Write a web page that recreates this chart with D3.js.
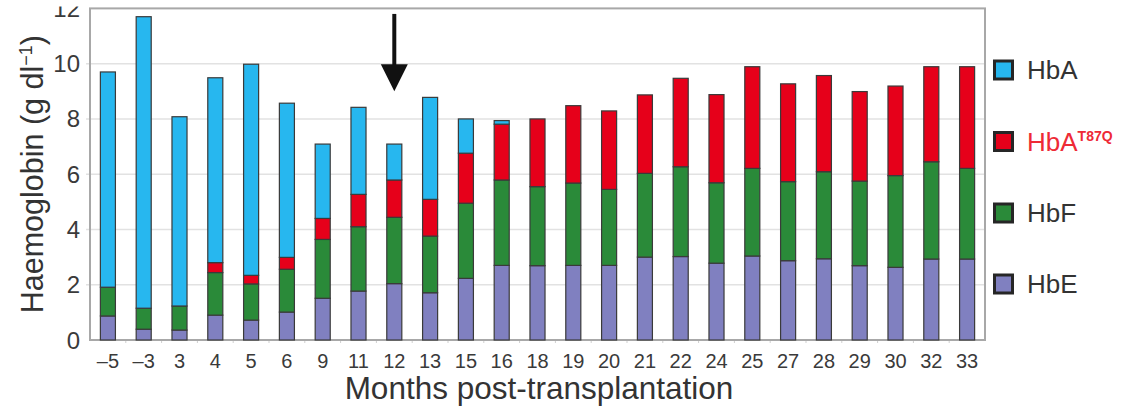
<!DOCTYPE html>
<html>
<head>
<meta charset="utf-8">
<script src="https://cdn.jsdelivr.net/npm/d3@7"></script>
<style>
  html, body { margin: 0; padding: 0; background: #fff; }
  svg { display: block; font-family: "Liberation Sans", Arial, Helvetica, sans-serif; }
</style>
</head>
<body>
<svg id="chart" width="1132" height="413"></svg>
<script>
// ---- data ----
const months = ["–5","–3","3","4","5","6","9","11","12","13","15","16","18","19","20","21","22","24","25","27","28","29","30","32","33"];
const hbE    = [0.87,0.39,0.36,0.90,0.72,1.01,1.51,1.77,2.04,1.71,2.23,2.70,2.69,2.70,2.70,3.00,3.02,2.78,3.04,2.87,2.94,2.69,2.63,2.93,2.93];
const hbF    = [1.04,0.76,0.87,1.54,1.31,1.55,2.13,2.33,2.40,2.05,2.72,3.09,2.86,2.98,2.75,3.03,3.25,2.91,3.17,2.86,3.15,3.06,3.32,3.52,3.28];
const hbAT87Q= [0,0,0,0.36,0.31,0.43,0.76,1.17,1.35,1.33,1.81,2.02,2.45,2.80,2.84,2.84,3.20,3.19,3.68,3.54,3.48,3.24,3.24,3.44,3.68];
const hbA    = [7.79,10.55,6.85,6.69,7.64,5.58,2.69,3.15,1.30,3.69,1.24,0.13,0,0,0,0,0,0,0,0,0,0,0,0,0];
const yTicks = [0,2,4,6,8,10,12];
const seriesKeys   = ["HbE","HbF","HbAT87Q","HbA"];
const legendOrder  = ["HbA","HbAT87Q","HbF","HbE"];
const colors = { HbA: "#27b7ef", HbAT87Q: "#e6001a", HbF: "#2a8a39", HbE: "#8080c0" };
const arrowMonth = "12";
const arrowFrom = 11.8, arrowTo = 9.0;

// ---- layout ----
const svg = d3.select("#chart");
const L = 90, R = 985, T = 8.4, B = 340;

const x = d3.scaleBand().domain(months).range([L, R]).paddingInner(0.58).paddingOuter(0.29);
const y = d3.scaleLinear().domain([0, 12]).range([B, T]);

const rows = months.map((m, i) => ({ month: m, HbE: hbE[i], HbF: hbF[i], HbAT87Q: hbAT87Q[i], HbA: hbA[i] }));
const stacked = d3.stack().keys(seriesKeys)(rows);

// gridlines
svg.append("g").selectAll("line").data(yTicks.filter(t => t > 0 && t < 12)).join("line")
  .attr("x1", L - 4).attr("x2", R)
  .attr("y1", d => y(d)).attr("y2", d => y(d))
  .attr("stroke", "#e2e2e2").attr("stroke-width", 1.5);

// minor ticks on x axis at band boundaries
const step = x.step();
svg.append("g").selectAll("line").data(months.slice(1)).join("line")
  .attr("x1", d => x(d) - (step - x.bandwidth()) / 2)
  .attr("x2", d => x(d) - (step - x.bandwidth()) / 2)
  .attr("y1", B).attr("y2", B + 3)
  .attr("stroke", "#cfcfcf").attr("stroke-width", 1);

// frame
svg.append("rect").attr("x", L).attr("y", y(12)).attr("width", R - L).attr("height", B - y(12))
  .attr("fill", "none").attr("stroke", "#a8a8a8").attr("stroke-width", 2);

// bars
svg.append("g").selectAll("g").data(stacked).join("g")
  .attr("fill", d => colors[d.key])
  .selectAll("rect").data(d => d.filter(s => s[1] - s[0] > 0)).join("rect")
  .attr("x", d => x(d.data.month))
  .attr("width", x.bandwidth())
  .attr("y", d => y(d[1]))
  .attr("height", d => y(d[0]) - y(d[1]))
  .attr("stroke", "#3a3a3a").attr("stroke-width", 1.2);

// y axis tick labels
svg.append("g").selectAll("text").data(yTicks).join("text")
  .attr("x", 80).attr("y", d => y(d) + 8.5)
  .attr("text-anchor", "end").attr("font-size", 24).attr("fill", "#3a3a3a")
  .text(d => d);

// x axis tick labels
svg.append("g").selectAll("text").data(months).join("text")
  .attr("x", d => x(d) + x.bandwidth() / 2).attr("y", 368)
  .attr("text-anchor", "middle").attr("font-size", 20).attr("fill", "#3a3a3a")
  .text(d => d);

// axis titles
svg.append("text").attr("x", 539).attr("y", 399)
  .attr("text-anchor", "middle").attr("font-size", 31.5).attr("fill", "#333")
  .text("Months post-transplantation");

const yt = svg.append("text")
  .attr("transform", `translate(43,${(T + B) / 2}) rotate(-90)`)
  .attr("text-anchor", "middle").attr("font-size", 30.5).attr("fill", "#333");
yt.append("tspan").text("Haemoglobin (g dl");
yt.append("tspan").attr("dy", -11).attr("font-size", 18).text("−1");
yt.append("tspan").attr("dy", 11).text(")");

// arrow
const ax = x(arrowMonth) + x.bandwidth() / 2;
const tipY = y(arrowTo), headTop = tipY - 27;
svg.append("line").attr("x1", ax).attr("x2", ax).attr("y1", y(arrowFrom)).attr("y2", headTop + 2)
  .attr("stroke", "#111").attr("stroke-width", 4);
svg.append("path")
  .attr("d", `M${ax - 13.5},${headTop} L${ax + 13.5},${headTop} L${ax},${tipY} Z`)
  .attr("fill", "#111");

// legend
const legY = { HbA: 70, HbAT87Q: 141.5, HbF: 213, HbE: 284 };
const lg = svg.append("g").selectAll("g").data(legendOrder).join("g")
  .attr("transform", d => `translate(993,${legY[d]})`);
lg.append("rect").attr("x", 1.5).attr("y", -9).attr("width", 18).attr("height", 18)
  .attr("fill", d => colors[d]).attr("stroke", "#262626").attr("stroke-width", 3);
lg.each(function(d) {
  const t = d3.select(this).append("text").attr("x", 34).attr("y", 9)
    .attr("font-size", 26).attr("fill", d === "HbAT87Q" ? "#ee2a36" : "#333");
  if (d === "HbAT87Q") {
    t.append("tspan").text("HbA");
    t.append("tspan").attr("dy", -10).attr("font-size", 14).attr("font-weight", "bold").text("T87Q");
  } else {
    t.text(d);
  }
});

// top crop as in the reference image
svg.append("rect").attr("x", 0).attr("y", 0).attr("width", 88).attr("height", 6.5).attr("fill", "#fff");
</script>
</body>
</html>
